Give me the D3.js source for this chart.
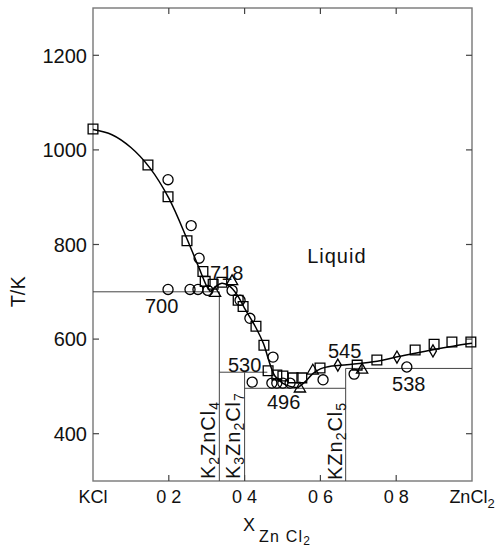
<!DOCTYPE html>
<html>
<head>
<meta charset="utf-8">
<script src="https://cdn.jsdelivr.net/npm/d3@7"></script>
<style>
  body { margin: 0; background: #fff; }
  text { font-family: "Liberation Sans", Arial, sans-serif; fill: #111; }
</style>
</head>
<body>
<div id="chart"></div>
<script>
// ---- data (mole fraction of ZnCl2, temperature in K) ----
const xTicks = [0, 0.2, 0.4, 0.6, 0.8, 1];
const xTickLabels = ["KCl", "0 2", "0 4", "0 6", "0 8", "ZnCl_2"];
const yTicks = [400, 600, 800, 1000, 1200];

// liquidus curve, drawn in three branches
const liqA = [[0, 1043], [0.05, 1032], [0.1, 1005], [0.15, 962], [0.2, 898], [0.25, 808], [0.28, 750], [0.3, 712], [0.31, 700]];
const liqB = [[0.31, 700], [0.325, 712], [0.34, 718], [0.36, 712], [0.38, 694], [0.4, 665], [0.43, 624], [0.45, 590], [0.46, 565], [0.47, 540], [0.48, 522], [0.5, 507], [0.52, 500], [0.54, 497]];
const liqC = [[0.54, 497], [0.56, 510], [0.58, 527], [0.6, 537], [0.63, 543], [0.67, 546], [0.75, 553], [0.8, 562], [0.85, 570], [0.9, 578], [0.95, 585], [1, 591]];

// measured points
const squares = [[0, 1044], [0.145, 968], [0.198, 901], [0.248, 808], [0.29, 743], [0.296, 722], [0.317, 716], [0.34, 720],
  [0.383, 682], [0.396, 669], [0.43, 627], [0.451, 587], [0.462, 533], [0.485, 524], [0.501, 522], [0.528, 518], [0.551, 518],
  [0.599, 539], [0.697, 545], [0.749, 556], [0.85, 577], [0.9, 589], [0.947, 594], [0.997, 594]];
const circles = [[0.198, 937], [0.259, 840], [0.28, 771], [0.198, 705], [0.256, 705], [0.277, 705], [0.303, 703], [0.367, 703],
  [0.388, 682], [0.414, 644], [0.475, 562], [0.42, 509], [0.472, 507], [0.485, 507], [0.501, 507], [0.52, 507],
  [0.607, 514], [0.689, 526], [0.828, 541]];
const triangles = [[0.322, 697], [0.367, 722], [0.546, 495], [0.58, 533], [0.71, 535]];
const diamonds = [[0.646, 545], [0.802, 562], [0.897, 575]];

// invariant lines: [x1, T1, x2, T2]
const phaseLines = [
  [0, 700, 1 / 3, 700], [1 / 3, 700, 1 / 3, 300],
  [1 / 3, 530, 0.46, 530], [0.4, 530, 0.4, 300],
  [0.4, 496, 2 / 3, 496], [2 / 3, 538, 2 / 3, 300],
  [2 / 3, 538, 1, 538]
];

// temperature labels and region names: [text, x, T]
const labels = [["700", 0.137, 655], ["718", 0.309, 725], ["530", 0.356, 530], ["496", 0.459, 452],
  ["545", 0.62, 560], ["538", 0.789, 490], ["Liquid", 0.565, 761]];
// compounds, written upward from the bottom: [formula, x, T]
const compounds = [["K_2ZnCl_4", 0.322, 304], ["K_3Zn_2Cl_7", 0.388, 304], ["KZn_2Cl_5", 0.657, 302]];

const width = 501, height = 548;
const x = d3.scaleLinear().domain([0, 1]).range([93, 472]);
const y = d3.scaleLinear().domain([300, 1300]).range([481, 8]);

const svg = d3.select("#chart").append("svg")
  .attr("width", width).attr("height", height);

// writes "A_2B" as text with subscripts
function subText(sel, str, subSize, shift) {
  const parts = str.split(/(_\d)/).filter(s => s.length);
  parts.forEach(p => {
    if (p[0] === "_") {
      sel.append("tspan").attr("font-size", subSize).attr("baseline-shift", -shift).text(p.slice(1));
    } else {
      sel.append("tspan").text(p);
    }
  });
}

// frame
svg.append("rect")
  .attr("x", x(0)).attr("y", y(1300))
  .attr("width", x(1) - x(0)).attr("height", y(300) - y(1300))
  .attr("fill", "none").attr("stroke", "#777").attr("stroke-width", 1.4);

// ticks (inward on all four sides)
const tk = svg.append("g").attr("stroke", "#444").attr("stroke-width", 1.2);
xTicks.slice(1, -1).forEach(v => {
  tk.append("line").attr("x1", x(v)).attr("x2", x(v)).attr("y1", y(300)).attr("y2", y(300) - 6);
  tk.append("line").attr("x1", x(v)).attr("x2", x(v)).attr("y1", y(1300)).attr("y2", y(1300) + 6);
});
yTicks.forEach(t => {
  tk.append("line").attr("x1", x(0)).attr("x2", x(0) + 6).attr("y1", y(t)).attr("y2", y(t));
  tk.append("line").attr("x1", x(1)).attr("x2", x(1) - 6).attr("y1", y(t)).attr("y2", y(t));
});

// tick labels
yTicks.forEach(t => {
  svg.append("text").attr("x", x(0) - 6).attr("y", y(t)).attr("dy", "0.36em")
    .attr("text-anchor", "end").attr("font-size", 20).text(t);
});
xTicks.forEach((v, i) => {
  const t = svg.append("text").attr("x", x(v)).attr("y", 503)
    .attr("text-anchor", "middle").attr("font-size", 18).attr("xml:space", "preserve");
  subText(t, xTickLabels[i], 13, 5);
});

// axis titles
svg.append("text").attr("transform", "translate(25," + y(700) + ") rotate(-90)")
  .attr("text-anchor", "middle").attr("font-size", 20).text("T/K");
svg.append("text").attr("x", 243).attr("y", 531).attr("font-size", 18).text("X");
const xs = svg.append("text").attr("x", 259).attr("y", 542).attr("font-size", 16)
  .attr("letter-spacing", 1.2).attr("xml:space", "preserve");
xs.append("tspan").text("Zn Cl");
xs.append("tspan").attr("font-size", 12).attr("baseline-shift", -3).text("2");

// invariant lines
svg.append("g").selectAll("line").data(phaseLines).join("line")
  .attr("x1", d => x(d[0])).attr("y1", d => y(d[1]))
  .attr("x2", d => x(d[2])).attr("y2", d => y(d[3]))
  .attr("stroke", "#444").attr("stroke-width", 1);

// liquidus
const line = d3.line().x(d => x(d[0])).y(d => y(d[1])).curve(d3.curveCatmullRom.alpha(0.5));
[liqA, liqB, liqC].forEach(seg => {
  svg.append("path").attr("d", line(seg))
    .attr("fill", "none").attr("stroke", "#000").attr("stroke-width", 1.5);
});

// markers
const marks = [[squares, d3.symbolSquare, 95], [circles, d3.symbolCircle, 80],
  [triangles, d3.symbolTriangle, 55], [diamonds, d3.symbolDiamond, 42]];
marks.forEach(([pts, type, size]) => {
  svg.append("g").selectAll("path").data(pts).join("path")
    .attr("transform", d => "translate(" + x(d[0]) + "," + y(d[1]) + ")")
    .attr("d", d3.symbol().type(type).size(size))
    .attr("fill", "none").attr("stroke", "#000").attr("stroke-width", 1.3);
});

// temperature labels
svg.append("g").selectAll("text").data(labels).join("text")
  .attr("x", d => x(d[1])).attr("y", d => y(d[2]))
  .attr("font-size", 20)
  .attr("letter-spacing", d => d[0] === "Liquid" ? 1 : 0)
  .text(d => d[0]);

// compound labels
compounds.forEach(([f, v, t]) => {
  const tx = svg.append("text")
    .attr("transform", "translate(" + x(v) + "," + y(t) + ") rotate(-90)")
    .attr("font-size", 20).attr("letter-spacing", 1);
  subText(tx, f, 14, 4);
});
</script>
</body>
</html>
